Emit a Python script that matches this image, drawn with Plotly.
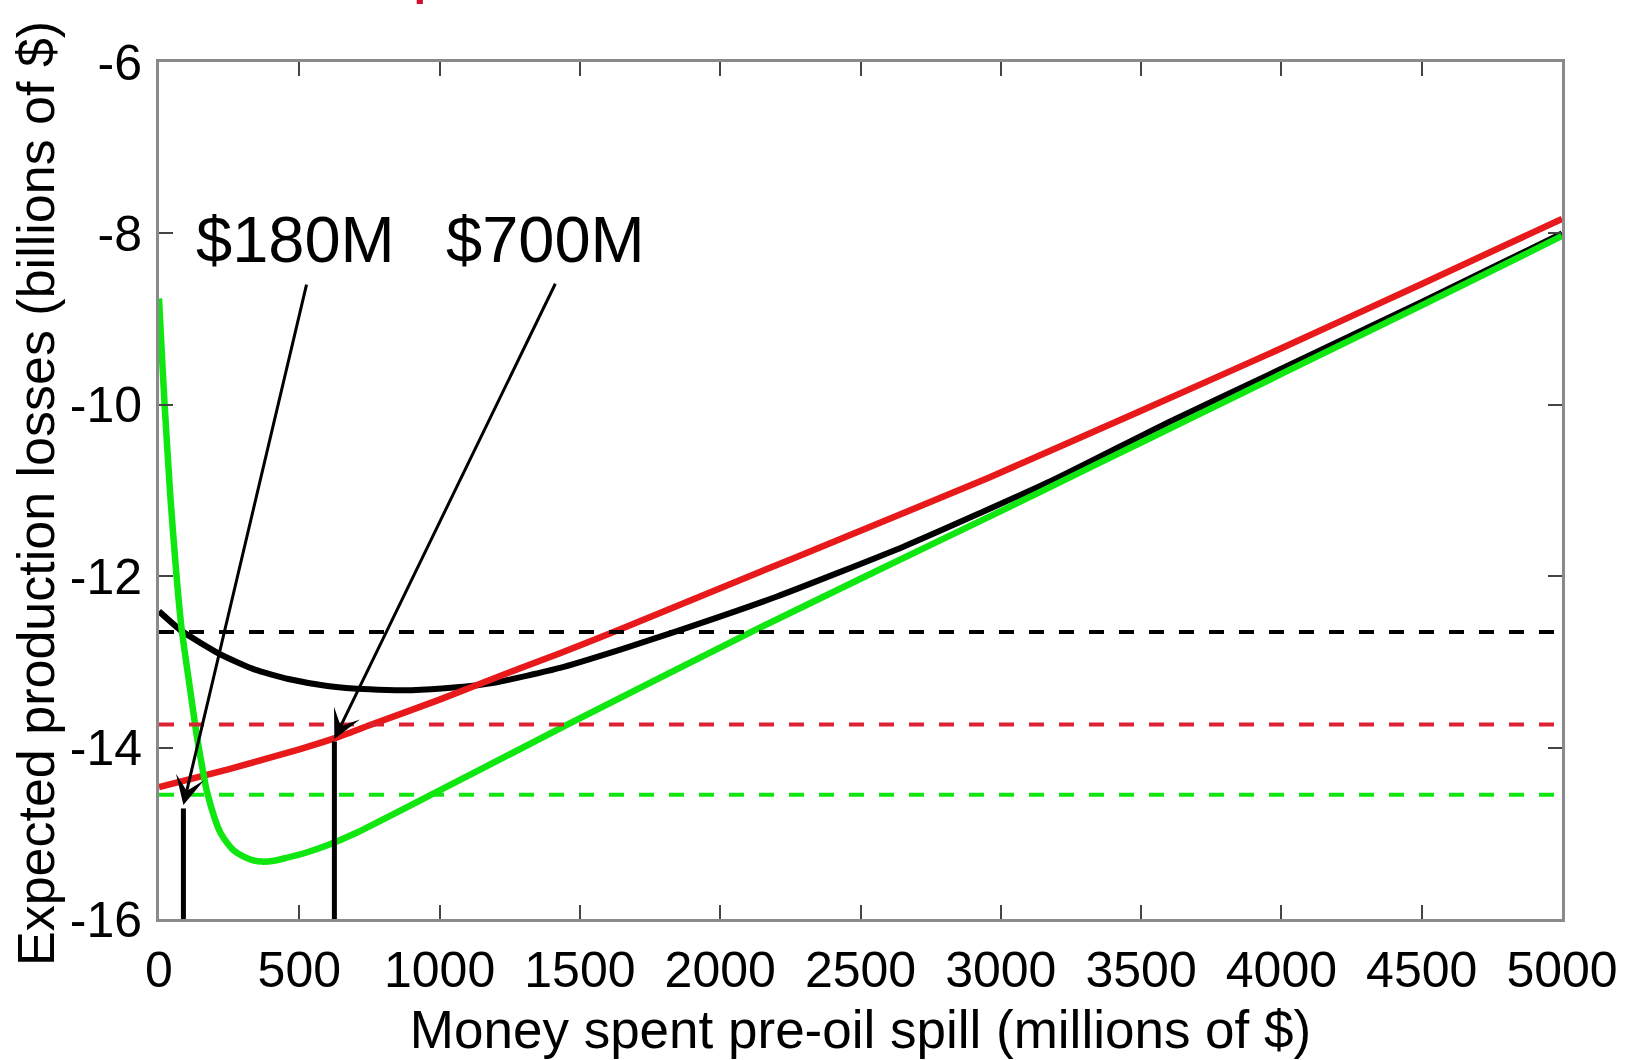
import plotly.graph_objects as go

# ---------------- data ----------------
black_x = [0, 81, 223, 342, 461, 600, 750, 900, 1050, 1200, 1429, 1650, 1838, 2200, 2657, 3185, 3600, 4000, 4500, 5000]
black_y = [-12.41, -12.64, -12.92, -13.09, -13.20, -13.28, -13.32, -13.33, -13.30, -13.24, -13.07, -12.85, -12.65, -12.24, -11.65, -10.88, -10.20, -9.58, -8.80, -8.00]

red_x = [0, 250, 500, 627, 750, 1000, 1250, 1429, 1620, 2000, 2500, 2957, 3500, 4000, 4500, 5000]
red_y = [-14.46, -14.25, -14.02, -13.89, -13.74, -13.44, -13.12, -12.90, -12.65, -12.14, -11.47, -10.85, -10.07, -9.34, -8.59, -7.83]

green_x = [0, 10, 20, 40, 60, 80, 110, 134, 158, 170, 200, 220, 247, 270, 300, 330, 366, 410, 450, 520, 600, 700, 1000, 1457, 2111, 2500, 3000, 3257, 3500, 4000, 4500, 5000]
green_y = [-8.76, -9.40, -10.00, -11.05, -11.90, -12.60, -13.30, -13.85, -14.30, -14.50, -14.84, -15.00, -15.13, -15.21, -15.27, -15.31, -15.33, -15.32, -15.29, -15.23, -15.14, -15.00, -14.50, -13.73, -12.65, -12.03, -11.24, -10.83, -10.44, -9.64, -8.84, -8.03]

ref_levels = [-12.65, -13.73, -14.55]          # dashed horizontal references (black, red, green)
ref_x_span = [0, 5000]

marker_x = [87, 625]                          # vertical marker lines
marker_top = [-14.71, -13.93]
axis_bottom = -16

labels = ["$180M", "$700M"]
label_x = [488, 1379]
label_y = [-8.07, -8.07]
arrow_tail_x = [527, 1415]
arrow_tail_y = [-8.58, -8.57]
arrow_tip_x = [87, 625]
arrow_tip_y = [-14.67, -13.90]

x_ticks = list(range(0, 5001, 500))
y_ticks = [-16, -14, -12, -10, -8, -6]

x_title = "Money spent pre-oil spill (millions of $)"
y_title = "Expected production losses (billions of $)"

# ---------------- styles ----------------
C_BLACK = "#000000"
C_RED = "#e8191a"
C_GREEN = "#10e610"
C_RED_DASH = "#dc2232"
FONT = "Liberation Sans, Arial, sans-serif"

fig = go.Figure()

for xs, ys, col, w in [(black_x, black_y, C_BLACK, 6),
                       (red_x, red_y, C_RED, 6.5),
                       (green_x, green_y, C_GREEN, 6.5)]:
    fig.add_trace(go.Scatter(x=xs, y=ys, mode="lines",
                             line=dict(color=col, width=w, shape="spline", smoothing=0.5),
                             showlegend=False, hoverinfo="skip"))

for lvl, col in zip(ref_levels, [C_BLACK, C_RED_DASH, C_GREEN]):
    fig.add_trace(go.Scatter(x=ref_x_span, y=[lvl, lvl], mode="lines",
                             line=dict(color=col, width=4, dash="15px,15px"),
                             showlegend=False, hoverinfo="skip"))

for mx, mt in zip(marker_x, marker_top):
    fig.add_trace(go.Scatter(x=[mx, mx], y=[axis_bottom, mt], mode="lines",
                             line=dict(color=C_BLACK, width=5),
                             showlegend=False, hoverinfo="skip"))

annotations = []
for t, lx, ly in zip(labels, label_x, label_y):
    annotations.append(dict(x=lx, y=ly, xref="x", yref="y", text=t,
                            showarrow=False, xanchor="center", yanchor="middle",
                            font=dict(family=FONT, size=65, color="#000000")))
for tx, ty, hx, hy in zip(arrow_tail_x, arrow_tail_y, arrow_tip_x, arrow_tip_y):
    annotations.append(dict(x=hx, y=hy, xref="x", yref="y", ax=tx, ay=ty,
                            axref="x", ayref="y", text="", showarrow=True,
                            arrowhead=3, arrowsize=1.6, arrowwidth=3,
                            arrowcolor="#000000", standoff=0))

# y-axis title
annotations.append(dict(x=-0.0877, y=0.497, xref="paper", yref="paper",
                        text=y_title, textangle=-90, showarrow=False,
                        xanchor="center", yanchor="middle",
                        font=dict(family=FONT, size=52, color="#000000")))
# cut-off red title fragment at the top edge
annotations.append(dict(x=0.1939, y=1.0653, xref="paper", yref="paper",
                        text="p", showarrow=False, xanchor="center", yanchor="bottom",
                        font=dict(family=FONT, size=70, color="#d01030")))

axis_common = dict(showline=True, linecolor="#8a8a8a", linewidth=3, mirror="ticks",
                   ticks="inside", ticklen=14, tickwidth=2, tickcolor="#444444",
                   showgrid=False, zeroline=False,
                   tickfont=dict(family=FONT, size=50, color="#000000"))

fig.update_layout(
    width=1630, height=1060,
    margin=dict(l=159, r=68, t=62, b=141),
    paper_bgcolor="white", plot_bgcolor="white",
    xaxis=dict(range=[0, 5000], tickvals=x_ticks, ticktext=[str(v) for v in x_ticks],
               ticklabelstandoff=5,
               title=dict(text=x_title, font=dict(family=FONT, size=53, color="#000000"),
                          standoff=14),
               **axis_common),
    yaxis=dict(range=[-16, -6], tickvals=y_ticks, ticktext=[str(v) for v in y_ticks],
               ticklabelstandoff=4,
               **axis_common),
    annotations=annotations,
    showlegend=False,
)

fig.write_html("out.html", config={"displayModeBar": False},
               post_script="document.body.style.margin='0px';document.body.style.padding='0px';")
